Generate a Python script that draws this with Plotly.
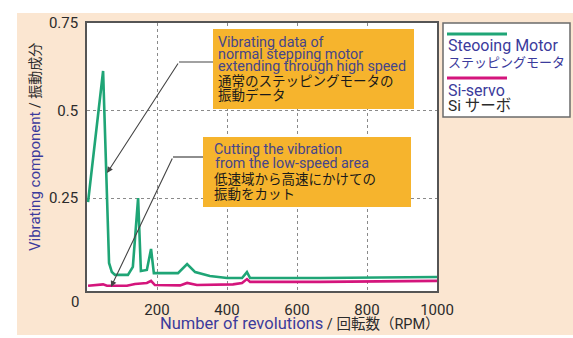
import plotly.graph_objects as go

# ---------------- data ----------------
rpm_step = [3, 46, 63, 71, 80, 117, 131, 146, 154, 171, 183, 191, 260, 286, 309, 351, 400, 443, 457, 466, 666, 1000]
vib_step = [0.239, 0.613, 0.065, 0.039, 0.031, 0.031, 0.054, 0.250, 0.042, 0.045, 0.105, 0.036, 0.036,
            0.062, 0.039, 0.028, 0.022, 0.022, 0.039, 0.022, 0.022, 0.025]

rpm_servo = [3, 46, 57, 114, 137, 171, 183, 194, 266, 286, 314, 417, 443, 457, 466, 666, 1000]
vib_servo = [0.0, 0.004, 0.0, 0.0, 0.005, 0.008, 0.014, 0.002, 0.001, 0.008, 0.002, 0.004, 0.008,
             0.019, 0.011, 0.011, 0.014]

x_ticks = [200, 400, 600, 800, 1000]
x_tick_labels = ["200", "400", "600", "800", "1000"]
y_ticks = [0.25, 0.5, 0.75]
y_tick_labels = ["0.25", "0.5", "0.75"]

name_step = "Steooing Motor<br>ステッピングモータ"
name_servo = "Si-servo<br>Si サーボ"

# ---------------- style ----------------
W, H = 573, 338
L, R, T, B = 87, 437, 23, 291
GREEN = "#1FA576"
MAGENTA = "#D4157C"
BLUE = "#3B3B9C"
BOXBLUE = "#45458A"
DARK = "#2b2b2b"
ORANGE = "#F6B42D"
PEACH = "#FBE6D1"
FONT = "Roboto, 'Noto Sans CJK JP', sans-serif"


def px(x):
    return (x - L) / (R - L)


def py(y):
    return (B - y) / (B - T)


fig = go.Figure()
fig.add_trace(go.Scatter(x=rpm_step, y=vib_step, mode="lines", name=name_step,
                         line=dict(color=GREEN, width=2.6), showlegend=False))
fig.add_trace(go.Scatter(x=rpm_servo, y=vib_servo, mode="lines", name=name_servo,
                         line=dict(color=MAGENTA, width=2.6), showlegend=False))

shapes = [
    # peach background and white plot area
    dict(type="rect", xref="paper", yref="paper", x0=px(17), x1=px(573), y0=py(335), y1=py(13),
         fillcolor=PEACH, line=dict(width=0), layer="below"),
    dict(type="rect", xref="paper", yref="paper", x0=0, x1=1, y0=0, y1=1,
         fillcolor="white", line=dict(width=0), layer="below"),
    # annotation boxes
    dict(type="rect", xref="paper", yref="paper", x0=px(213), x1=px(414), y0=py(109), y1=py(29),
         fillcolor=ORANGE, line=dict(width=0), layer="above"),
    dict(type="rect", xref="paper", yref="paper", x0=px(203), x1=px(411), y0=py(207), y1=py(137),
         fillcolor=ORANGE, line=dict(width=0), layer="above"),
    # leader horizontal segments
    dict(type="line", xref="paper", yref="paper", x0=px(179), x1=px(213), y0=py(62), y1=py(62),
         line=dict(color="#444", width=1.2), layer="above"),
    dict(type="line", xref="paper", yref="paper", x0=px(173), x1=px(203), y0=py(157), y1=py(157),
         line=dict(color="#444", width=1.2), layer="above"),
    # legend box
    dict(type="rect", xref="paper", yref="paper", x0=px(443), x1=px(570), y0=py(117), y1=py(23),
         fillcolor="white", line=dict(color="#6b6b6b", width=1.5), layer="above"),
    dict(type="line", xref="paper", yref="paper", x0=px(447), x1=px(507), y0=py(34), y1=py(34),
         line=dict(color=GREEN, width=3), layer="above"),
    dict(type="line", xref="paper", yref="paper", x0=px(447), x1=px(507), y0=py(78), y1=py(78),
         line=dict(color=MAGENTA, width=3), layer="above"),
]

annotations = []


def txt(text, x, y, color, size, xanchor="left", yanchor="middle", angle=0):
    annotations.append(dict(text=text, x=px(x), y=py(y), xref="paper", yref="paper",
                            xanchor=xanchor, yanchor=yanchor, showarrow=False, textangle=angle,
                            font=dict(family=FONT, size=size, color=color)))


# box 1 text
txt("Vibrating data of", 216, 42, BOXBLUE, 14.3)
txt("normal stepping motor", 216, 54, BOXBLUE, 14.3)
txt("extending through high speed", 216, 66, BOXBLUE, 14.3)
txt("通常のステッピングモータの", 216, 81, "#1a1a1a", 13.5)
txt("振動データ", 216, 95, "#1a1a1a", 13.5)
# box 2 text
txt("Cutting the vibration", 212, 149, BOXBLUE, 14.3)
txt("from the low-speed area", 213, 163, BOXBLUE, 14.3)
txt("低速域から高速にかけての", 212, 179, "#1a1a1a", 13.5)
txt("振動をカット", 212, 194, "#1a1a1a", 13.5)
# legend text
txt("Steooing Motor", 446, 46, BLUE, 16)
txt("ステッピングモータ", 446, 62, BLUE, 13)
txt("Si-servo", 446, 90, BLUE, 16)
txt("Si サーボ", 446, 106, DARK, 15.5)
# axis titles
txt("<span style='color:%s;font-size:16.5px'>Number of revolutions</span> / 回転数（RPM）" % BLUE,
    158, 323, DARK, 14.5)
txt("<span style='color:%s;font-size:15px'>Vibrating component</span> / 振動成分" % BLUE,
    35, 253, DARK, 14, xanchor="center", yanchor="bottom", angle=-90)
# shared origin label
txt("0", 81, 302, DARK, 15, xanchor="right")

# leader arrows
for tip, tail in [((107, 173), (179, 62)), ((111, 287), (173, 157))]:
    annotations.append(dict(x=px(tip[0]), y=py(tip[1]), xref="paper", yref="paper", text="",
                            showarrow=True, ax=tail[0] - tip[0], ay=tail[1] - tip[1],
                            arrowhead=2, arrowsize=1.1, arrowwidth=1.1, arrowcolor="#444"))

axis_common = dict(showline=True, linecolor="#555", linewidth=1.6, mirror=True,
                   showgrid=True, gridcolor="#8a8a8a", griddash="dot", gridwidth=1,
                   zeroline=False, tickfont=dict(family=FONT, size=15, color=DARK),
                   ticks="outside", ticklen=4, tickcolor="rgba(0,0,0,0)")

fig.update_layout(
    width=W, height=H,
    margin=dict(l=L, r=W - R, t=T, b=H - B),
    paper_bgcolor="white", plot_bgcolor="white",
    showlegend=False,
    xaxis=dict(range=[0, 1000], tickvals=x_ticks, ticktext=x_tick_labels, **axis_common),
    yaxis=dict(range=[-0.015, 0.75], tickvals=y_ticks, ticktext=y_tick_labels, **axis_common),
    shapes=shapes,
    annotations=annotations,
)

fig.write_html("out.html", config={"displayModeBar": False},
               post_script="document.body.style.margin='0';")
